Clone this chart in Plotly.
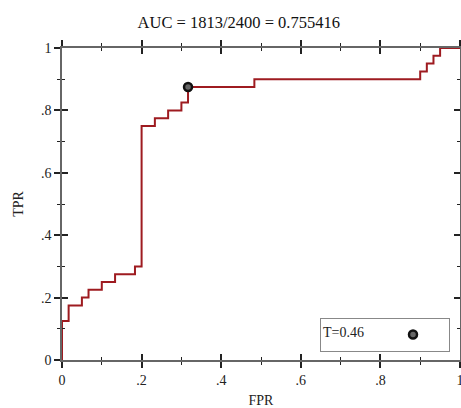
import plotly.graph_objects as go

# ROC step curve (FPR in units of 1/60 negatives, TPR in units of 1/40 positives)
fpr_counts = [0, 0, 1, 1, 3, 3, 4, 4, 6, 6, 8, 8, 11, 11, 12, 12, 14, 14, 16, 16, 18, 18, 19, 19, 29, 29, 54, 54, 55, 55, 56, 56, 57, 57, 60]
tpr_counts = [0, 5, 5, 7, 7, 8, 8, 9, 9, 10, 10, 11, 11, 12, 12, 30, 30, 31, 31, 32, 32, 33, 33, 35, 35, 36, 36, 37, 37, 38, 38, 39, 39, 40, 40]
n_neg = 60
n_pos = 40
fpr = [c / n_neg for c in fpr_counts]
tpr = [c / n_pos for c in tpr_counts]

thr_fpr = [19 / 60]
thr_tpr = [35 / 40]
thr_label = "T=0.46"

title_text = "AUC = 1813/2400 = 0.755416"
tick_vals = [0, 0.2, 0.4, 0.6, 0.8, 1]
tick_text = ["0", ".2", ".4", ".6", ".8", "1"]

FONT = "Liberation Serif, Times New Roman, serif"
AX = "#666666"
TK = "#222222"

fig = go.Figure()
# invisible copy on the overlay axes so the inner ticks render
fig.add_trace(go.Scatter(x=fpr, y=tpr, mode="lines", xaxis="x2", yaxis="y2",
                         line=dict(color="rgba(0,0,0,0)", width=0),
                         showlegend=False, hoverinfo="skip"))
fig.add_trace(go.Scatter(x=fpr, y=tpr, mode="lines",
                         line=dict(color="#9e1b20", width=2),
                         showlegend=False, hoverinfo="skip"))
fig.add_trace(go.Scatter(x=thr_fpr, y=thr_tpr, mode="markers", name="\u00a0" * 3,
                         marker=dict(symbol="circle", size=8, color="#666666",
                                     line=dict(color="#111111", width=2.5)),
                         showlegend=True))

common = dict(range=[0, 1], tickvals=tick_vals, showgrid=False, zeroline=False,
              showline=True, linecolor=AX, linewidth=1.5, mirror="allticks",
              ticklen=6, tickwidth=2, tickcolor=TK, fixedrange=True, automargin=False)

fig.update_layout(
    width=461, height=408,
    margin=dict(l=62, r=1, t=48, b=48),
    paper_bgcolor="white", plot_bgcolor="white",
    font=dict(family=FONT, size=14, color=TK),
    title=dict(text=title_text, x=0.518, xanchor="center", y=0.946, yanchor="middle",
               font=dict(family=FONT, size=16.5, color="#111111")),
    xaxis=dict(**common, ticks="outside", ticktext=tick_text, ticklabeloverflow="allow",
               minor=dict(ticks="outside", dtick=0.1, ticklen=3, tickwidth=1, tickcolor=TK),
               title=dict(text="FPR", standoff=12, font=dict(family=FONT, size=14))),
    yaxis=dict(**common, ticks="outside", ticktext=tick_text, ticklabeloverflow="allow",
               minor=dict(ticks="outside", dtick=0.1, ticklen=3, tickwidth=1, tickcolor=TK),
               title=dict(text="TPR", standoff=14, font=dict(family=FONT, size=14))),
    xaxis2=dict(**common, overlaying="x", ticks="inside", showticklabels=False,
                minor=dict(ticks="inside", dtick=0.1, ticklen=3, tickwidth=1, tickcolor=TK)),
    yaxis2=dict(**common, overlaying="y", ticks="inside", showticklabels=False,
                minor=dict(ticks="inside", dtick=0.1, ticklen=3, tickwidth=1, tickcolor=TK)),
    legend=dict(x=0.975, xanchor="right", y=0.026, yanchor="bottom",
                bordercolor="#888888", borderwidth=1, bgcolor="white",
                title=dict(text=thr_label + "\u00a0" * 6, side="left",
                           font=dict(family=FONT, size=14)),
                font=dict(family=FONT, size=14)),
    showlegend=True,
)

fig.write_html("out.html", config={"displayModeBar": False},
               post_script="document.body.style.margin='0';document.body.style.overflow='hidden';")
